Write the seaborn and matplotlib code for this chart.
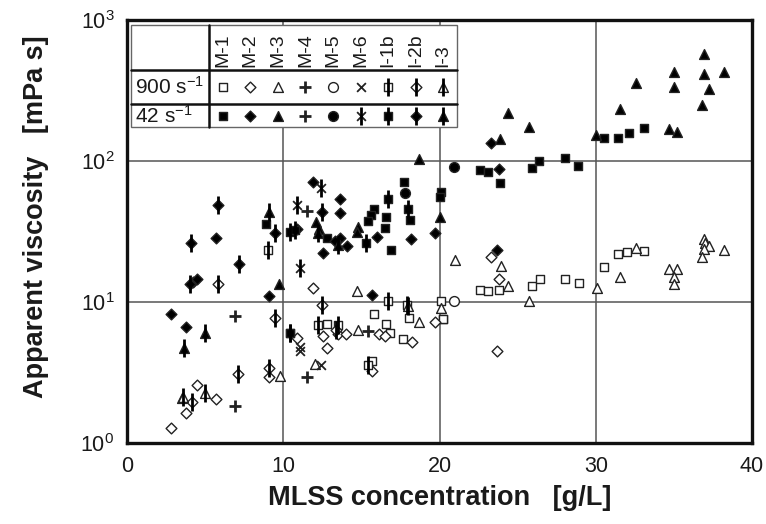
import matplotlib
matplotlib.use("Agg")
import matplotlib.pyplot as plt
import seaborn as sns
import numpy as np
from matplotlib.patches import Rectangle
from matplotlib.lines import Line2D

sns.set_theme(style="white")
plt.rcParams["font.family"] = ["Liberation Sans", "DejaVu Sans"]
plt.rcParams["mathtext.fontset"] = "custom"
plt.rcParams["mathtext.rm"] = "Liberation Sans"
plt.rcParams["mathtext.it"] = "Liberation Sans:italic"
plt.rcParams["mathtext.bf"] = "Liberation Sans:bold"

# ---------------- data (MLSS g/L, viscosity mPa s) ----------------
# 42 s^-1 (filled symbols)
M1_42_x = [15.8, 15.6, 15.4, 16.6, 16.5, 17.7, 18.1, 12.8, 16.9, 20.1, 20.0, 22.6, 23.1, 23.9, 25.9, 26.35, 28.0, 28.85, 30.5, 31.4, 32.1, 33.1, 8.9]
M1_42_y = [45.7, 41.4, 37.7, 40.0, 33.6, 70.6, 38.0, 28.6, 23.4, 60.0, 55.8, 86.3, 84.0, 69.5, 89.7, 100.0, 104.5, 92.2, 145, 146, 159, 172, 36.0]
M2_42_x = [5.67, 4.2, 4.5, 9.1, 2.8, 3.8, 11.9, 13.6, 13.65, 10.85, 13.6, 14.05, 12.55, 16.0, 18.2, 19.7, 15.7, 23.7, 23.3, 23.8, 13.3]
M2_42_y = [28.6, 13.9, 14.5, 11.0, 8.2, 6.6, 70.6, 53.5, 43.0, 32.8, 28.3, 25.1, 22.4, 29.0, 27.9, 31.0, 11.3, 23.4, 133.6, 87.3, 27.0]
M3_42_x = [9.7, 12.1, 14.8, 14.7, 18.7, 20.06, 24.4, 25.7, 23.9, 30.0, 36.9, 35.0, 36.9, 38.2, 32.6, 35.0, 37.25, 31.55, 36.8, 34.7, 35.2, 12.3]
M3_42_y = [13.5, 37.1, 34.2, 31.6, 103, 39.8, 218, 175, 143, 153, 574, 430, 414, 430, 356, 337, 322, 233, 250, 168, 161, 33.0]
M4_42_x = [11.5, 6.9]
M4_42_y = [44.2, 7.95]
M5_42_x = [20.9, 17.8]
M5_42_y = [91.0, 59.0]
M6_42_x = [12.4, 10.9, 11.1]
M6_42_y = [64.0, 48.7, 17.3]
I1b_42_x = [16.7, 18.0, 10.45, 10.75, 15.3, 10.4]
I1b_42_y = [54.0, 45.4, 31.6, 32.3, 26.3, 6.0]
I2b_42_x = [5.8, 4.1, 7.14, 9.5, 12.45, 4.0]
I2b_42_y = [48.7, 26.1, 18.5, 30.7, 43.7, 13.4]
I3_42_x = [9.1, 12.25, 13.5, 5.0, 3.65]
I3_42_y = [43.7, 30.7, 25.4, 6.0, 4.7]

# 900 s^-1 (open symbols)
M1_900_x = [20.1, 20.2, 15.8, 18.05, 20.2, 12.8, 16.6, 16.8, 17.65, 15.7, 22.6, 23.1, 23.8, 25.9, 26.4, 28.0, 28.9, 30.5, 31.4, 32.0, 33.1]
M1_900_y = [10.2, 7.6, 8.2, 7.66, 7.57, 7.0, 7.0, 6.0, 5.44, 3.8, 12.2, 12.0, 12.2, 13.0, 14.6, 14.6, 13.6, 17.6, 21.8, 22.7, 23.1]
M2_900_x = [2.8, 3.8, 4.45, 5.67, 9.1, 11.9, 19.7, 12.55, 13.5, 14.0, 12.8, 16.1, 16.5, 18.25, 10.85, 15.7, 23.3, 23.8, 23.7]
M2_900_y = [1.27, 1.62, 2.58, 2.04, 2.95, 12.5, 7.25, 5.74, 5.9, 5.9, 4.7, 5.9, 5.7, 5.2, 5.6, 3.25, 21.0, 14.5, 4.5]
M3_900_x = [9.8, 3.5, 14.7, 18.7, 20.1, 14.8, 12.05, 21.0, 23.95, 24.4, 25.7, 30.1, 31.55, 32.6, 34.7, 35.2, 35.0, 35.0, 36.9, 37.0, 37.25, 36.9, 36.8, 38.2]
M3_900_y = [3.0, 2.1, 12.0, 7.25, 9.0, 6.3, 3.63, 19.8, 18.0, 13.0, 10.2, 12.6, 15.0, 24.0, 17.1, 17.1, 15.0, 13.4, 27.8, 26.0, 25.0, 23.6, 20.9, 23.4]
M4_900_x = [6.9, 11.5, 15.4]
M4_900_y = [1.83, 2.92, 6.2]
M5_900_x = [20.9]
M5_900_y = [10.2]
M6_900_x = [11.1, 11.05, 12.4]
M6_900_y = [4.8, 4.5, 3.6]
I1b_900_x = [9.0, 16.7, 17.9, 12.25, 13.5, 10.4, 15.4]
I1b_900_y = [23.4, 10.2, 9.5, 6.87, 6.87, 6.0, 3.6]
I2b_900_x = [5.8, 9.5, 12.45, 7.1, 4.15, 13.4, 9.1]
I2b_900_y = [13.4, 7.66, 9.5, 3.1, 1.96, 6.3, 3.4]
I3_900_x = [3.6, 5.0, 18.0]
I3_900_y = [2.13, 2.25, 9.3]

series_names = ["M-1", "M-2", "M-3", "M-4", "M-5", "M-6", "I-1b", "I-2b", "I-3"]
row_labels = ["900 s$^{-1}$", "42 s$^{-1}$"]
x_ticks = [0, 10, 20, 30, 40]
y_ticks = [1, 10, 100, 1000]
y_tick_labels = ["$10^{0}$", "$10^{1}$", "$10^{2}$", "$10^{3}$"]

# marker styles per series: (base marker, size, bar overlay)
styles = {
    "M-1": ("s", 38, False),
    "M-2": ("D", 30, False),
    "M-3": ("^", 50, False),
    "M-4": ("+", 70, False),
    "M-5": ("o", 50, False),
    "M-6": ("x", 40, False),
    "I-1b": ("s", 38, True),
    "I-2b": ("D", 30, True),
    "I-3": ("^", 50, True),
}

data900 = [(M1_900_x, M1_900_y), (M2_900_x, M2_900_y), (M3_900_x, M3_900_y), (M4_900_x, M4_900_y),
           (M5_900_x, M5_900_y), (M6_900_x, M6_900_y), (I1b_900_x, I1b_900_y), (I2b_900_x, I2b_900_y),
           (I3_900_x, I3_900_y)]
data42 = [(M1_42_x, M1_42_y), (M2_42_x, M2_42_y), (M3_42_x, M3_42_y), (M4_42_x, M4_42_y),
          (M5_42_x, M5_42_y), (M6_42_x, M6_42_y), (I1b_42_x, I1b_42_y), (I2b_42_x, I2b_42_y),
          (I3_42_x, I3_42_y)]

EDGE = "#222222"


def draw_series(ax, xs, ys, name, filled, transform=None, z=3):
    marker, size, bar = styles[name]
    extra = {}
    if transform is not None:
        extra = dict(transform=transform, clip_on=False)
    if marker in ("+", "x"):
        lw = 2.0 if marker == "+" else 1.3
        if transform is None:
            sns.scatterplot(x=xs, y=ys, ax=ax, marker=marker, s=size, color=EDGE,
                            linewidth=lw, legend=False, zorder=z)
        else:
            ax.scatter(xs, ys, marker=marker, s=size, color=EDGE, linewidth=lw, zorder=z, **extra)
        if name == "M-6" and filled:
            bar = True
    else:
        fc = "black" if filled else "white"
        if transform is None:
            sns.scatterplot(x=xs, y=ys, ax=ax, marker=marker, s=size, facecolor=fc,
                            edgecolor=EDGE, linewidth=1.0, legend=False, zorder=z)
        else:
            ax.scatter(xs, ys, marker=marker, s=size, facecolor=fc, edgecolor=EDGE,
                       linewidth=1.0, zorder=z, **extra)
    if bar:
        if transform is None:
            sns.scatterplot(x=xs, y=ys, ax=ax, marker="|", s=150, color="black",
                            linewidth=2.0, legend=False, zorder=z + 0.5)
        else:
            ax.scatter(xs, ys, marker="|", s=150, color="black", linewidth=2.0,
                       zorder=z + 0.5, **extra)


fig = plt.figure(figsize=(7.66, 5.24), dpi=100)
ax = fig.add_axes([127 / 766, 1 - 443 / 524, 625 / 766, 423 / 524])

for name, (xs, ys) in zip(series_names, data900):
    draw_series(ax, xs, ys, name, filled=False)
for name, (xs, ys) in zip(series_names, data42):
    draw_series(ax, xs, ys, name, filled=True)

ax.set_yscale("log")
ax.set_xlim(0, 40)
ax.set_ylim(1, 1000)
ax.set_xticks(x_ticks)
ax.set_xticklabels([str(t) for t in x_ticks])
ax.set_yticks(y_ticks)
ax.set_yticklabels(y_tick_labels)
ax.yaxis.set_minor_locator(matplotlib.ticker.NullLocator())
ax.tick_params(axis="both", length=0, labelsize=15.5, colors="#1a1a1a")
ax.tick_params(axis="x", pad=9)
ax.tick_params(axis="y", pad=9)
ax.grid(True, which="major", color="#555555", linewidth=1.1)
ax.set_axisbelow(True)
for sp in ax.spines.values():
    sp.set_linewidth(2.4)
    sp.set_color("#111111")
    sp.set_zorder(10)

ax.set_xlabel("MLSS concentration   [g/L]", fontsize=19.5, fontweight="bold", labelpad=6, color="#1a1a1a")
ax.set_ylabel("Apparent viscosity   [mPa s]", fontsize=19.5, fontweight="bold", color="#1a1a1a")
ax.yaxis.set_label_coords(-0.125, 0.535)

# ---------------- legend table (axes fraction coordinates) ----------------
W, H = 625.0, 423.0
def fx(px):
    return (px - 127) / W
def fy(py):
    return (443 - py) / H

tx0, tx1 = fx(131), fx(457)
ty0, ty1 = fy(127), fy(25)
r1, r2 = fy(70), fy(104)
cdiv = fx(209)
ncol = len(series_names)
cw = (tx1 - cdiv) / ncol

ax.add_patch(Rectangle((tx0, ty0), tx1 - tx0, ty1 - ty0, transform=ax.transAxes,
                       facecolor="white", edgecolor="#666666", linewidth=1.0, zorder=6, clip_on=False))
for yy in (r1, r2):
    ax.add_line(Line2D([tx0, tx1], [yy, yy], transform=ax.transAxes, color="#111111", lw=1.8, zorder=7))
ax.add_line(Line2D([cdiv, cdiv], [ty0, ty1], transform=ax.transAxes, color="#111111", lw=1.8, zorder=7))

for i, name in enumerate(series_names):
    cx = cdiv + cw * (i + 0.5)
    ax.text(cx, r1 + 0.008, name, rotation=90, ha="center", va="bottom", fontsize=14,
            transform=ax.transAxes, zorder=8, color="#1a1a1a")
    ymid900 = (r1 + r2) / 2
    ymid42 = (r2 + ty0) / 2
    draw_series(ax, [cx], [ymid900], name, filled=False, transform=ax.transAxes, z=8)
    draw_series(ax, [cx], [ymid42], name, filled=True, transform=ax.transAxes, z=8)

ax.text(tx0 + 0.006, (r1 + r2) / 2, row_labels[0], ha="left", va="center", fontsize=15,
        transform=ax.transAxes, zorder=8, color="#1a1a1a")
ax.text(tx0 + 0.006, (r2 + ty0) / 2, row_labels[1], ha="left", va="center", fontsize=15,
        transform=ax.transAxes, zorder=8, color="#1a1a1a")

fig.savefig("out.png", dpi=100, facecolor="white")
